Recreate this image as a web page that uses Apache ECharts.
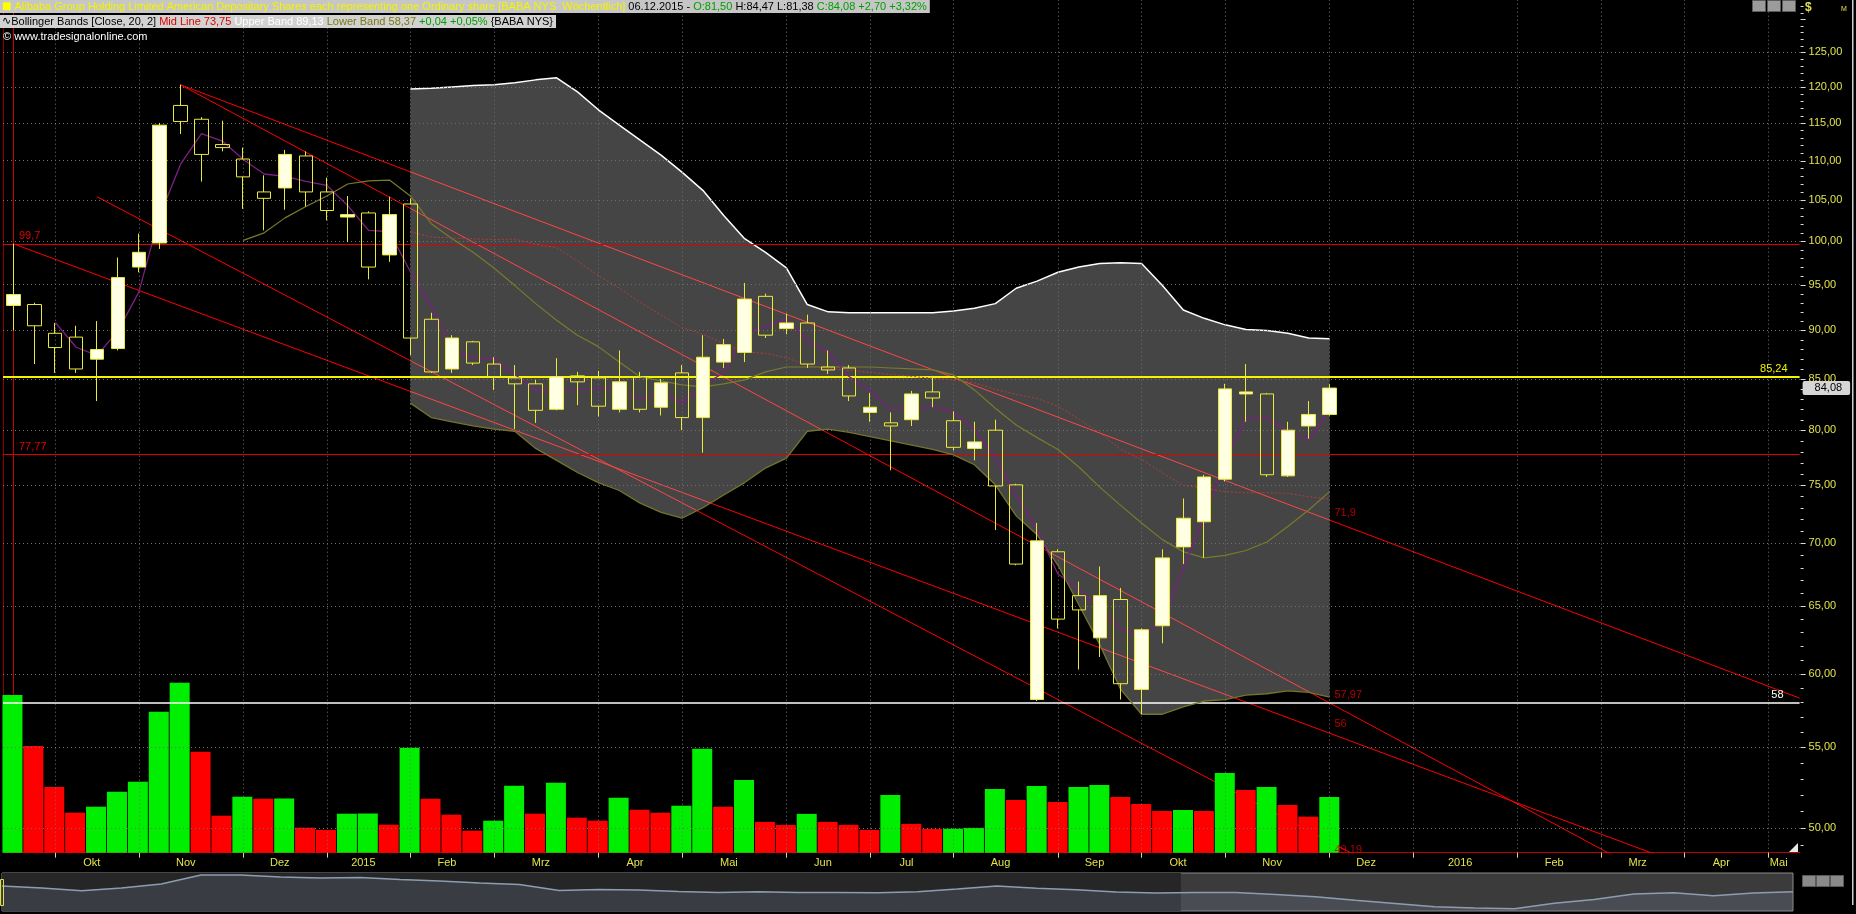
<!DOCTYPE html>
<html>
<head>
<meta charset="utf-8">
<script src="https://cdn.jsdelivr.net/npm/echarts@6/dist/echarts.min.js"></script>
<style>
html,body{margin:0;padding:0;background:#000;overflow:hidden;}
#chart{width:1856px;height:914px;}
</style>
</head>
<body>
<div id="chart"></div>
<script>
// ================= DATA =================
const weekCount = 86;               // weekly slots on the x axis (data + empty future)
const firstWeek = '2014-09-21';     // week ending of first candle
const monthNames = ['Jan','Feb','Mrz','Apr','Mai','Jun','Jul','Aug','Sep','Okt','Nov','Dez'];

const opens  = [92.7,92.8,89.7,89.3,87.0,88.1,97.0,99.8,117.4,115.5,112.1,110.2,106.0,106.5,110.6,106.0,102.9,103.4,98.4,104.5,91.2,86.0,88.8,86.5,85.1,84.5,82.0,85.3,85.1,82.0,85.2,82.2,85.6,81.2,86.7,87.7,93.7,90.2,90.8,86.2,86.1,81.7,80.7,81.0,83.7,80.9,78.3,80.0,75.0,58.2,69.3,65.8,62.6,65.5,58.9,63.5,69.7,71.8,75.5,83.5,83.5,75.8,80.4,81.50];
const closes = [93.9,90.5,88.2,86.0,88.0,95.8,98.7,114.7,115.2,110.8,111.7,107.9,105.2,110.8,106.0,103.7,103.2,97.0,103.2,89.2,85.7,89.2,86.6,85.2,84.5,81.9,85.2,84.7,82.3,84.7,82.0,84.6,81.2,87.2,88.5,93.4,89.5,90.8,86.5,85.9,83.3,82.2,80.4,83.5,83.1,78.4,78.9,74.9,68.3,70.2,64.0,64.7,65.8,59.3,63.2,68.8,72.1,75.7,84.0,83.7,75.9,80.0,81.5,84.08];
const lows   = [90.0,86.5,85.6,85.6,82.8,87.9,96.4,99.1,113.5,107.3,111.2,103.9,101.3,103.8,104.2,102.5,99.9,95.6,97.6,87.4,85.6,85.6,86.4,83.9,80.1,80.7,81.9,82.4,81.3,81.7,81.7,81.4,80.0,77.9,86.1,86.7,89.2,89.6,86.1,85.5,82.8,80.8,76.3,80.4,82.2,78.1,77.2,71.1,68.2,58.1,63.3,60.3,61.2,58.2,57.2,62.2,68.3,68.8,75.3,80.8,75.7,75.7,79.2,81.38];
const highs  = [99.7,93.0,90.8,90.5,91.0,98.1,100.9,115.0,120.3,115.8,115.3,111.7,108.1,111.4,111.2,107.8,105.5,103.6,105.4,105.2,91.9,89.5,88.9,87.2,86.4,84.9,87.1,85.7,85.8,87.9,85.7,85.0,86.4,89.5,89.1,95.2,94.0,91.8,91.7,87.9,86.4,83.6,81.7,83.8,85.3,81.8,80.8,81.0,75.1,71.7,69.5,66.9,68.1,66.4,63.3,69.5,73.8,75.9,84.5,86.5,83.6,80.8,82.8,84.47];
const volumes = [78.9,53.4,32.9,20.0,23.0,30.5,35.5,70.5,85.0,50.5,18.5,28.0,27.0,27.1,12.5,11.4,19.5,19.6,14.0,52.5,27.0,19.0,11.0,16.0,33.5,19.5,35.0,17.5,16.0,27.5,21.5,20.0,23.5,52.0,23.0,36.4,15.4,13.9,19.4,15.4,13.9,11.4,28.9,14.4,11.9,12.0,12.4,31.9,26.4,33.4,25.4,32.9,33.9,27.9,24.4,20.9,21.4,20.9,39.9,31.4,32.9,23.9,18.0,27.9];

const bandStart = 19;
const upperBand = [119.7,119.8,120.0,120.2,120.3,120.6,121.0,121.3,119.3,116.8,114.7,112.7,110.7,108.5,106.2,103.1,100.3,98.7,96.9,92.8,92.0,91.9,91.9,91.9,91.9,91.9,92.1,92.4,92.9,94.6,95.4,96.4,97.0,97.4,97.5,97.4,94.9,92.2,91.3,90.6,90.1,90.0,89.7,89.2,89.13];
const lowerBand = [82.6,81.2,80.8,80.4,80.1,79.9,78.3,77.2,76.1,75.2,74.5,73.4,72.6,72.1,73.0,74.1,75.2,76.5,77.4,79.9,80.1,79.8,79.4,79.0,78.6,78.2,77.7,76.8,75.0,72.3,70.7,68.2,65.1,62.1,58.9,57.2,57.2,57.7,58.1,58.2,58.5,58.6,58.8,58.7,58.37];
const oliveStart = 11;
const oliveLine = [100.1,101.0,102.8,104.2,105.5,107.0,107.4,107.5,105.5,102.1,100.3,98.7,96.9,94.9,92.9,91.1,89.5,88.3,86.7,85.2,84.8,84.4,84.2,84.5,84.9,85.7,86.2,86.2,86.2,86.2,86.2,86.1,86.0,85.9,85.4,83.9,82.1,80.5,79.3,78.2,76.6,74.8,73.2,71.7,70.3,69.3,68.8,69.0,69.4,70.1,71.4,72.8,74.4];

const priceTicks = [50,55,60,65,70,75,80,85,90,95,100,105,110,115,120,125];
const priceMin = 48.57, priceMax = 132.97;

// trend lines: [startWeek, startPrice, endWeek, endPrice]
const trendLines = [[8,120.3,85.5,58.3],[8,120.3,85.5,43.0],[4,105.4,85.5,36.8],[0,99.7,85.5,45.5]];
const trendValues = [71.9,57.97,56,49.19];
const redLevels = [99.7,77.77];
const yellowLevel = 85.24;
const whiteLevel = 58;

const navValues = [25,23,20.3,23,27,36,36,34,33,33.5,31.5,30,28,26.5,20.5,21.5,21,19.5,18.5,19.3,18.5,18.5,18.2,19.3,22,25,22.7,21.3,19,18,18.5,18.5,16.4,14.3,10.8,7.6,4.3,3.1,2.3,7.8,11.5,17,18.3,15.3,18,19.3];
const navWindowStart = 29.62;

// ================= BUILD =================
const FONT = '"Liberation Sans", Arial, sans-serif';
const dates = [];
{ const t0 = Date.parse(firstWeek + 'T00:00:00Z'); for (let i = 0; i < weekCount; i++) dates.push(new Date(t0 + i * 7 * 864e5).toISOString().slice(0, 10)); }
const monthTicks = [];
for (let i = 1; i < weekCount; i++) if (dates[i].slice(5, 7) !== dates[i - 1].slice(5, 7)) monthTicks.push(i);
const tickSet = new Set(monthTicks);
const xLabels = {};
monthTicks.forEach((t, k) => {
  const nx = k + 1 < monthTicks.length ? monthTicks[k + 1] : weekCount;
  const pos = Math.min((t + nx) / 2 - 0.25, weekCount - 1.5);
  const m = +dates[t].slice(5, 7) - 1;
  xLabels[pos.toFixed(2)] = m === 0 ? dates[t].slice(0, 4) : monthNames[m];
});
const nData = closes.length;
const pad = (arr, start) => closes.map((_, i) => (i >= start && i - start < arr.length) ? arr[i - start] : '-');
const fmt2 = v => v.toFixed(2).replace('.', ',');
const fmtS = v => String(v).replace('.', ',');

const lowerS = pad(lowerBand, bandStart);
const diffS = pad(upperBand.map((u, k) => +(u - lowerBand[k]).toFixed(4)), bandStart);
const midS = pad(upperBand.map((u, k) => (u + lowerBand[k]) / 2), bandStart);
const oliveS = pad(oliveLine, oliveStart);
const sma3 = closes.map((c, i) => i < 2 ? '-' : (closes[i] + closes[i - 1] + closes[i - 2]) / 3);
const candleData = opens.map((o, i) => [o, closes[i], lows[i], highs[i]]);
const volData = volumes.map((v, i) => ({ value: v, itemStyle: { color: (i === 0 || v >= volumes[i - 1]) ? '#00ee00' : '#ff0000' } }));
const axisTickData = [];
for (let p = 49; p <= 132; p++) axisTickData.push([0, p, p % 5 === 0 ? 1 : 0]);

const chart = echarts.init(document.getElementById('chart'), null, { renderer: 'canvas', width: 1856, height: 914 });

const gridR = 56.4, gridB = 61.3;
const lvlLabel = (text, color, pos, padArr) => ({ show: true, position: pos, distance: 2, padding: padArr, formatter: text, color: color, fontSize: 11, fontFamily: FONT });
const option = {
  backgroundColor: '#000',
  animation: false,
  textStyle: { fontFamily: FONT },
  grid: [
    { left: 2, right: gridR, top: 0, bottom: gridB },
    { left: 2, right: gridR, top: 914 - gridB - 200, bottom: gridB },
    { left: 2, right: 63, top: 873, height: 38, show: true, backgroundColor: '#3b3b3b', borderColor: '#8c8c8c', borderWidth: 1 }
  ],
  xAxis: [
    { type: 'category', gridIndex: 0, data: dates, boundaryGap: true, position: 'bottom',
      axisLine: { show: true, lineStyle: { color: '#c00000', width: 1 } },
      axisTick: { show: true, alignWithLabel: true, interval: (i) => tickSet.has(i), length: 5, lineStyle: { color: '#d6d69a' } },
      axisLabel: { show: false }, splitLine: { show: false } },
    { type: 'value', gridIndex: 0, min: -0.5, max: weekCount - 0.5, interval: 0.25, position: 'bottom',
      axisLine: { show: false }, axisTick: { show: false }, splitLine: { show: false },
      axisLabel: { show: true, margin: 5, color: '#e2e24c', fontSize: 11, fontFamily: FONT,
        formatter: v => xLabels[(+v).toFixed(2)] || '' } },
    { type: 'category', gridIndex: 1, data: dates, boundaryGap: true, show: false },
    { type: 'value', gridIndex: 2, min: 0, max: navValues.length - 1, show: false }
  ],
  yAxis: [
    { type: 'log', gridIndex: 0, position: 'right', min: priceMin, max: priceMax,
      axisLine: { show: true, lineStyle: { color: '#c80000', width: 1 } }, axisTick: { show: false },
      axisLabel: { show: false }, splitLine: { show: false } },
    { type: 'log', gridIndex: 0, position: 'left', min: priceMin, max: priceMax,
      axisLine: { show: true, lineStyle: { color: '#900000', width: 1 } }, axisTick: { show: false },
      axisLabel: { show: false }, splitLine: { show: false } },
    { type: 'value', gridIndex: 1, min: 0, max: 100, show: false },
    { type: 'value', gridIndex: 2, min: 0, max: 38, show: false }
  ],
  series: [
    // dotted grid + price labels
    { type: 'line', name: 'grid', xAxisIndex: 0, yAxisIndex: 0, data: [], z: 1, silent: true,
      markLine: { silent: true, symbol: ['none', 'none'], animation: false,
        lineStyle: { type: [1, 3], color: '#707070', width: 1 },
        label: { show: false },
        data: [
          ...priceTicks.map(p => ({ yAxis: p, label: { show: true, position: 'end', distance: 9, formatter: fmt2(p), color: '#e2e24c', fontSize: 11, fontFamily: FONT } })),
          ...monthTicks.map(i => ({ xAxis: dates[i] }))
        ] } },
    // axis minor ticks
    { type: 'custom', name: 'ticks', xAxisIndex: 0, yAxisIndex: 0, data: axisTickData, z: 10, silent: true, clip: false,
      encode: { x: 0, y: 1 },
      renderItem: (params, api) => {
        const y = Math.round(api.coord([0, api.value(1)])[1]) + 0.5;
        const x0 = params.coordSys.x + params.coordSys.width;
        const len = api.value(2) ? 5 : 3;
        return { type: 'line', shape: { x1: x0 + 1, y1: y, x2: x0 + 1 + len, y2: y }, style: { stroke: '#dcdcdc', lineWidth: 1 } };
      } },
    // red horizontal levels
    { type: 'line', name: 'redLevels', xAxisIndex: 0, yAxisIndex: 0, data: [], z: 2, silent: true,
      markLine: { silent: true, symbol: ['none', 'none'],
        lineStyle: { type: 'solid', color: '#e00000', width: 1 },
        data: redLevels.map(p => ({ yAxis: p, label: lvlLabel(fmtS(p), '#e00000', 'insideStartTop', [0, 0, 0, 14]) })) } },
    // trend lines
    ...trendLines.map((t, k) => ({ type: 'line', name: 'trend' + k, xAxisIndex: 1, yAxisIndex: 0, z: 2, silent: true,
      data: [[t[0], t[1]], [t[2], t[3]]], symbol: 'none', lineStyle: { color: '#ff0000', width: 1 } })),
    // volume
    { type: 'bar', name: 'Volume', xAxisIndex: 2, yAxisIndex: 2, data: volData, barWidth: 20, z: 3, silent: true },
    // Bollinger band
    { type: 'line', name: 'Lower Band', xAxisIndex: 0, yAxisIndex: 0, data: lowerS, stack: 'bb', symbol: 'none', z: 5,
      lineStyle: { color: '#74742a', width: 1.3 } },
    { type: 'line', name: 'Upper Band', xAxisIndex: 0, yAxisIndex: 0, data: diffS, stack: 'bb', symbol: 'none', z: 4,
      lineStyle: { color: '#ffffff', width: 1.5 }, areaStyle: { color: 'rgba(255,255,255,0.39)' } },
    { type: 'line', name: 'Mid Line', xAxisIndex: 0, yAxisIndex: 0, data: midS, symbol: 'none', z: 5,
      lineStyle: { color: '#b83a3a', width: 1, type: [2, 2] } },
    { type: 'line', name: 'olive', xAxisIndex: 0, yAxisIndex: 0, data: oliveS, symbol: 'none', z: 5,
      lineStyle: { color: '#7a7a2c', width: 1.2 } },
    { type: 'line', name: 'sma3', xAxisIndex: 0, yAxisIndex: 0, data: sma3, symbol: 'none', z: 5,
      lineStyle: { color: '#7e1f86', width: 1.3 } },
    // candles
    { type: 'candlestick', name: 'BABA', xAxisIndex: 0, yAxisIndex: 0, data: candleData, barWidth: 14, z: 6,
      itemStyle: { color: '#ffffe4', color0: 'rgba(0,0,0,0)', borderColor: '#eaea3a', borderColor0: '#eaea3a', borderWidth: 1 } },
    // yellow + white levels
    { type: 'line', name: 'levels', xAxisIndex: 0, yAxisIndex: 0, data: [], z: 7, silent: true,
      markLine: { silent: true, symbol: ['none', 'none'],
        data: [
          { yAxis: yellowLevel, lineStyle: { color: '#f4f400', width: 2, type: 'solid' }, label: lvlLabel(fmtS(yellowLevel), '#f0f000', 'insideEndTop', [0, 10, 0, 0]) },
          { yAxis: whiteLevel, lineStyle: { color: '#ffffff', width: 1.5, type: 'solid' }, label: lvlLabel(fmtS(whiteLevel), '#ffffff', 'insideEndTop', [0, 14, 0, 0]) }
        ] } },
    // trendline value labels
    { type: 'scatter', name: 'trendLabels', xAxisIndex: 1, yAxisIndex: 0, z: 8, silent: true, symbolSize: 1,
      itemStyle: { color: 'rgba(0,0,0,0)' },
      data: trendValues.map((v, k) => ({ value: [nData - 0.5, v], label: { offset: k === trendValues.length - 1 ? [-6, 8] : [-6, -8] } })),
      label: { show: true, position: 'right', distance: 0, formatter: p => fmtS(p.value[1]), color: '#e00000', fontSize: 11, fontFamily: FONT } },
    // last price tag
    { type: 'line', name: 'lastTag', xAxisIndex: 0, yAxisIndex: 0, data: [], z: 9, silent: true,
      markLine: { silent: true, symbol: ['none', 'none'], lineStyle: { color: 'rgba(0,0,0,0)', width: 1 },
        data: [{ yAxis: closes[nData - 1], label: { show: true, position: 'end', distance: 3, formatter: fmt2(closes[nData - 1]), color: '#000', backgroundColor: '#d6d6d6', padding: [2, 8, 1, 12], fontSize: 11, fontFamily: FONT, borderRadius: 2 } }] } },
    // navigator
    { type: 'line', name: 'navBg', xAxisIndex: 3, yAxisIndex: 3, data: [], z: 1, silent: true,
      markArea: { silent: true, itemStyle: { color: '#262626' }, data: [[{ xAxis: 0 }, { xAxis: navWindowStart }]] } },
    { type: 'line', name: 'nav', xAxisIndex: 3, yAxisIndex: 3, data: navValues.map((v, i) => [i, v]), symbol: 'none', z: 3, silent: true,
      lineStyle: { color: '#8d9db1', width: 1.5 }, areaStyle: { color: 'rgba(120,140,165,0.33)' } }
  ],
  graphic: [
    { type: 'text', left: 0, top: 0, z: 100, silent: true,
      style: { text: '{ic|■} {t|Alibaba Group Holding Limited American Depositary Shares each representing one Ordinary share [BABA NYS  Wöchentlich]} {d|06.12.2015 - }{g|O:81,50 }{d|H:84,47 L:81,38 }{g|C:84,08 +2,70 +3,32%}',
        fontSize: 11, fontFamily: FONT, fill: '#000', backgroundColor: '#c6c6c6', padding: [1, 3, 1, 2],
        rich: { ic: { fill: '#ffff00', fontSize: 10, fontFamily: 'DejaVu Sans' }, t: { fill: '#f4f400', fontSize: 11, fontFamily: FONT }, d: { fill: '#000', fontSize: 11, fontFamily: FONT }, g: { fill: '#00a000', fontSize: 11, fontFamily: FONT } } } },
    { type: 'text', left: 0, top: 15, z: 100, silent: true,
      style: { text: '{s|∿}Bollinger Bands [Close, 20, 2] {r|Mid Line 73,75} {w|Upper Band 89,13} {o|Lower Band 58,37} {g|+0,04 +0,05%} {BABA NYS}',
        fontSize: 11, fontFamily: FONT, fill: '#000', backgroundColor: '#d2d2d2', padding: [1, 3, 1, 2],
        rich: { s: { fill: '#000', fontSize: 11, fontFamily: 'DejaVu Sans' }, r: { fill: '#e00000', fontSize: 11, fontFamily: FONT }, w: { fill: '#ffffff', fontSize: 11, fontFamily: FONT }, o: { fill: '#7a7a10', fontSize: 11, fontFamily: FONT }, g: { fill: '#00a000', fontSize: 11, fontFamily: FONT } } } },
    { type: 'text', left: 3, top: 31, z: 100, silent: true,
      style: { text: '© www.tradesignalonline.com', fontSize: 11, fontFamily: FONT, fill: '#ffffff' } },
    { type: 'text', left: 1805, top: 2, z: 100, silent: true, style: { text: '$', fontSize: 12, fontWeight: 'bold', fontFamily: FONT, fill: '#e2e24c' } },
    { type: 'text', left: 1841, top: 6, z: 100, silent: true, style: { text: 'M', fontSize: 7, fontFamily: FONT, fill: '#e2e24c' } },
    { type: 'rect', left: 1752, top: 0, z: 100, silent: true, shape: { width: 13, height: 11 }, style: { fill: '#9c9c9c', stroke: '#5a5a5a' } },
    { type: 'rect', left: 1767, top: 0, z: 100, silent: true, shape: { width: 13, height: 11 }, style: { fill: '#9c9c9c', stroke: '#5a5a5a' } },
    { type: 'rect', left: 1782, top: 0, z: 100, silent: true, shape: { width: 13, height: 11 }, style: { fill: '#9c9c9c', stroke: '#5a5a5a' } },
    { type: 'rect', left: 1802, top: 875, z: 100, silent: true, shape: { width: 13, height: 11 }, style: { fill: '#8a8a8a', stroke: '#5a5a5a' } },
    { type: 'rect', left: 1816, top: 875, z: 100, silent: true, shape: { width: 13, height: 11 }, style: { fill: '#8a8a8a', stroke: '#5a5a5a' } },
    { type: 'rect', left: 1830, top: 875, z: 100, silent: true, shape: { width: 13, height: 11 }, style: { fill: '#8a8a8a', stroke: '#5a5a5a' } },
    { type: 'rect', left: 1852, top: 0, z: 100, silent: true, shape: { width: 1.5, height: 905 }, style: { fill: '#cfcfcf' } },
    { type: 'rect', left: 0, top: 879, z: 100, silent: true, shape: { width: 3, height: 26 }, style: { fill: 'rgba(0,0,0,0)', stroke: '#e2e24c' } },
    { type: 'polygon', z: 100, silent: true, shape: { points: [[1798, 843], [1798, 852], [1789, 852]] }, style: { fill: '#e8e8e8' } }
  ]
};
chart.setOption(option);
</script>
</body>
</html>
